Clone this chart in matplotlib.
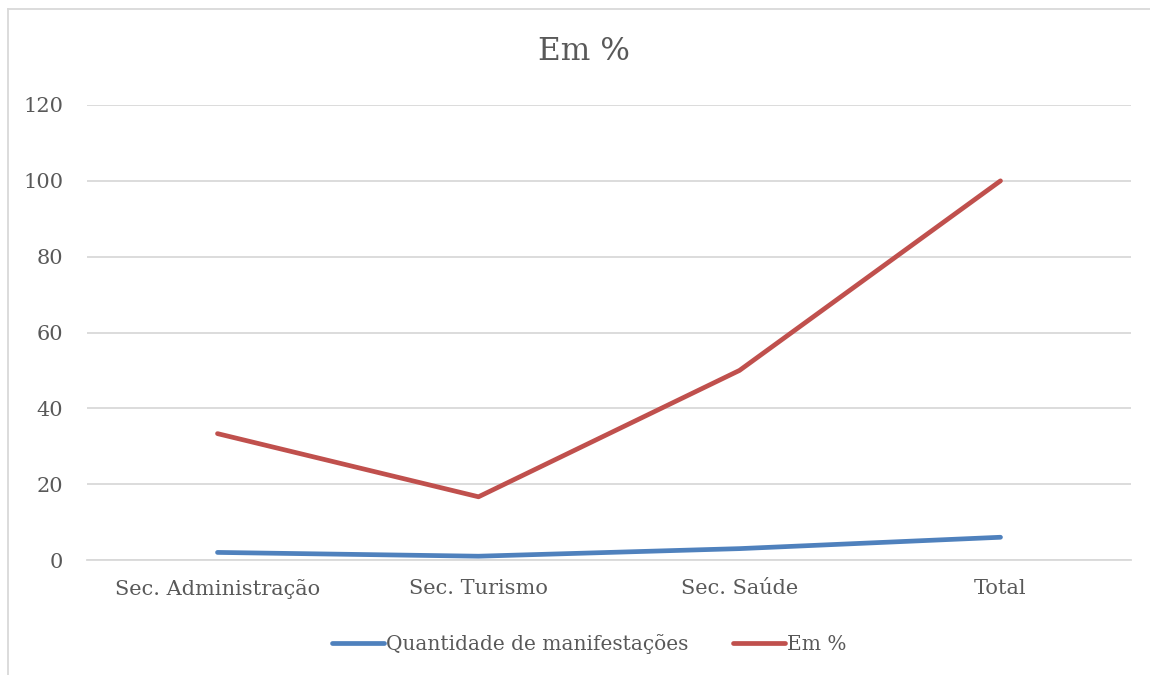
import matplotlib.pyplot as plt
from matplotlib.lines import Line2D

categorias = ['Sec. Administração', 'Sec. Turismo', 'Sec. Saúde', 'Total']
quantidade = [2, 1, 3, 6]
em_pct = [33.33, 16.67, 50, 100]
yticks = [0, 20, 40, 60, 80, 100, 120]

cinza = '#595959'
plt.rcParams['font.family'] = ['DejaVu Serif']

fig = plt.figure(figsize=(11.5, 6.75), dpi=100)
ax = fig.add_axes([87 / 1150, 1 - 560 / 675, (1131 - 87) / 1150, (560 - 105) / 675])

x = range(len(categorias))
ax.plot(x, quantidade, color='#4F81BD', lw=3.4, solid_capstyle='round',
        label='Quantidade de manifestações')
ax.plot(x, em_pct, color='#C0504D', lw=3.4, solid_capstyle='round', label='Em %')

ax.set_xlim(-0.5, len(categorias) - 0.5)
ax.set_ylim(0, 120)
ax.set_yticks(yticks)
ax.set_xticks(list(x))
ax.set_xticklabels(categorias)
ax.grid(axis='y', color='#D9D9D9', lw=1.3)
ax.set_axisbelow(True)
for s in ax.spines.values():
    s.set_visible(False)
ax.spines['bottom'].set_visible(True)
ax.spines['bottom'].set_color('#D9D9D9')
ax.spines['bottom'].set_linewidth(1.3)
ax.tick_params(length=0, labelsize=15, colors=cinza, pad=14)
ax.tick_params(axis='y', pad=17)

fig.text(584 / 1150, 1 - 52 / 675, 'Em %', ha='center', va='center', fontsize=22.5, color=cinza)

leg = fig.legend(loc='center', bbox_to_anchor=(589 / 1150, 1 - 644 / 675), ncol=2,
                 frameon=False, fontsize=14.5, handlelength=2.6, handletextpad=0.1,
                 columnspacing=2.2, labelcolor=cinza)

# moldura do gráfico (só esquerda e topo aparecem no recorte)
fig.add_artist(Line2D([8 / 1150, 8 / 1150], [0, 1 - 9 / 675], transform=fig.transFigure,
                      color='#D9D9D9', lw=1.3))
fig.add_artist(Line2D([8 / 1150, 1], [1 - 9 / 675, 1 - 9 / 675], transform=fig.transFigure,
                      color='#D9D9D9', lw=1.3))

fig.savefig('out.png', dpi=100)
